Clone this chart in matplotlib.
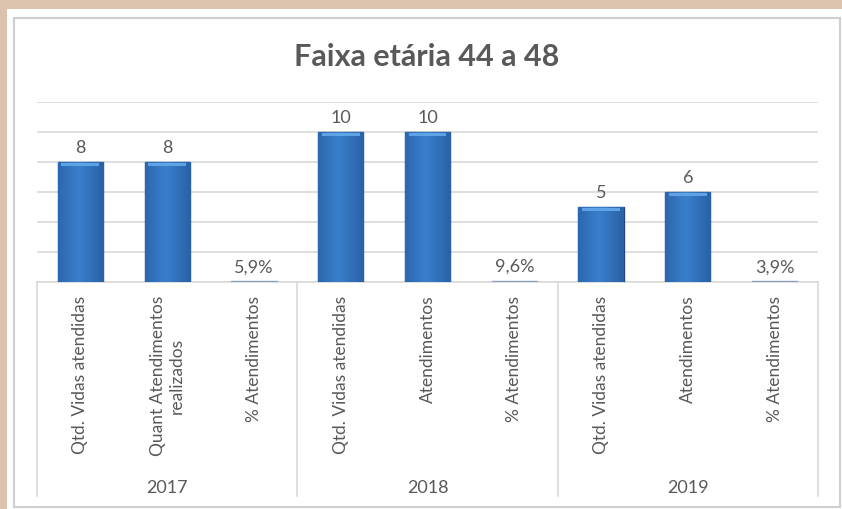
import matplotlib.pyplot as plt
import matplotlib.patches as mpatches
import numpy as np

plt.rcParams['font.family'] = ['Lato', 'DejaVu Sans']

# Data
years = ['2017', '2018', '2019']
categories = ['Qtd. Vidas atendidas', 'Quant Atendimentos\nrealizados', '% Atendimentos',
              'Qtd. Vidas atendidas', 'Atendimentos', '% Atendimentos',
              'Qtd. Vidas atendidas', 'Atendimentos', '% Atendimentos']
values = [8, 8, 0.059, 10, 10, 0.096, 5, 6, 0.039]
value_labels = ['8', '8', '5,9%', '10', '10', '9,6%', '5', '6', '3,9%']
title = 'Faixa etária 44 a 48'

text_color = '#595959'
grid_color = '#d9d9d9'

fig = plt.figure(figsize=(8.42, 5.10), dpi=100)
fig.patch.set_facecolor('#dcc3ad')
W, H = 842, 510

# white card and gray frame
fig.add_artist(mpatches.Rectangle((7 / W, -0.05), 1.0, 1.05 - 10 / H, transform=fig.transFigure,
                                  facecolor='white', edgecolor='none', zorder=0))
fig.add_artist(mpatches.Rectangle((14 / W, 2 / H), 826 / W, 489 / H, transform=fig.transFigure,
                                  facecolor='white', edgecolor='#cfcfcf', linewidth=1.5, zorder=0))

ax = fig.add_axes([37 / W, (H - 283) / H, 781 / W, 180 / H])
ax.set_facecolor('none')

x = np.arange(len(values))
bars = ax.bar(x, values, width=0.52, color='#2f6db5', edgecolor='#1d4a85', linewidth=1.0, zorder=3)

# horizontal shading on each bar
grad = np.linspace(0, 1, 64)
shade = 1 - 0.55 * np.abs(grad - 0.45) * 2
cmap = plt.matplotlib.colors.LinearSegmentedColormap.from_list('b', ['#1d4f8f', '#3a7fcc'])
for b in bars:
    if b.get_height() < 1:
        b.set_facecolor('#9db3cc')
        b.set_edgecolor('#8aa0ba')
        continue
    x0, w, h = b.get_x(), b.get_width(), b.get_height()
    im = ax.imshow(shade[np.newaxis, :], cmap=cmap, aspect='auto', vmin=0, vmax=1,
                   extent=(x0, x0 + w, 0, h), zorder=3.5)
    im.set_clip_path(b)
    # light top cap
    ax.add_patch(mpatches.Rectangle((x0 + w * 0.08, h - 0.24), w * 0.84, 0.2,
                                    facecolor='#5fa3e6', edgecolor='none', zorder=4))

ax.set_xlim(-0.5, len(values) - 0.5)
ax.set_ylim(0, 12)
ax.set_yticks(np.arange(0, 13, 2))
ax.yaxis.grid(True, color=grid_color, linewidth=1.2, zorder=0)
ax.tick_params(axis='y', left=False, labelleft=False)
for s in ['top', 'right', 'left']:
    ax.spines[s].set_visible(False)
ax.spines['bottom'].set_color(grid_color)
ax.spines['bottom'].set_linewidth(1.2)

for xi, v, lab in zip(x, values, value_labels):
    ax.text(xi, v + 0.45, lab, ha='center', va='bottom', fontsize=13, color=text_color)

ax.set_xticks(x)
ax.set_xticklabels(categories, rotation=90, va='top', ha='center', fontsize=12.5,
                   color=text_color, multialignment='center')
ax.tick_params(axis='x', length=0, pad=9)

# group separators and year labels
for k in range(len(years) + 1):
    ax.plot([k * 3 - 0.5, k * 3 - 0.5], [0, -1.19], transform=ax.get_xaxis_transform(),
            color=grid_color, linewidth=1.2, clip_on=False)
for k, yr in enumerate(years):
    ax.text(k * 3 + 1, -1.14, yr, transform=ax.get_xaxis_transform(), ha='center', va='center',
            fontsize=13, color=text_color)

fig.text(427 / W, 1 - 57 / H, title, ha='center', va='center', fontsize=22,
         fontweight='bold', color='#595959')

fig.savefig('out.png', dpi=100, facecolor=fig.get_facecolor())
